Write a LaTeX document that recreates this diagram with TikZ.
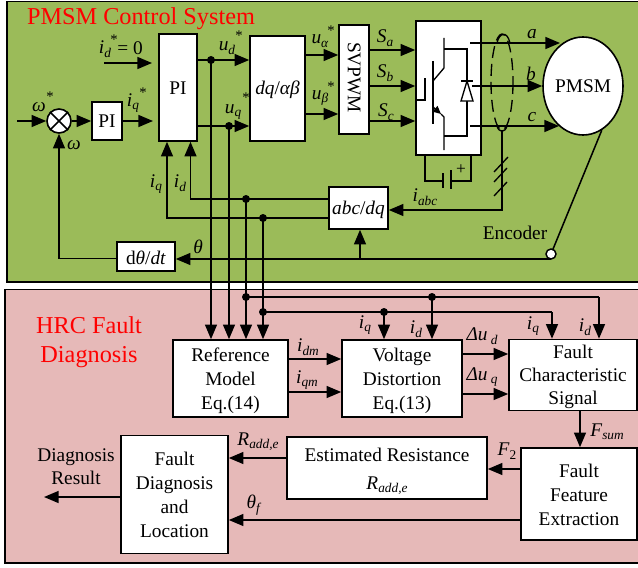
\documentclass[tikz,border=0pt]{standalone}
\usepackage{fontspec}
\setmainfont{Liberation Serif}
\usetikzlibrary{arrows.meta,shapes.geometric}
\definecolor{panelgreen}{HTML}{9BBB59}
\definecolor{panelpink}{HTML}{E6B9B8}
\newcommand\subs[1]{\raisebox{-.38ex}{\fontsize{10}{10}\selectfont\textit{#1}}}
\newcommand\il[2]{\textit{#1}\subs{#2}}
\tikzset{
  x=0.75pt,y=-0.75pt,
  wire/.style={line width=1.15pt,line join=miter},
  arr/.style={wire,-{Triangle[length=11pt,width=9pt]}},
  thin wire/.style={line width=1pt},
  box/.style={draw,fill=white,line width=1.2pt,inner sep=0pt,align=center,font=\fontsize{14.5}{18}\selectfont},
  sz/.style 2 args={minimum width=#1*0.75pt,minimum height=#2*0.75pt},
  dot/.style={circle,fill=black,inner sep=0pt,minimum size=6pt},
  lab/.style={inner sep=0pt,align=center,font=\fontsize{14.5}{18}\selectfont},
  star/.style={inner sep=0pt,font=\fontsize{11}{11}\selectfont},
  title/.style={inner sep=0pt,align=center,text=red,font=\fontsize{18.2}{22}\selectfont},
  panel/.style={draw,line width=1.2pt},
}
\begin{document}
\begin{tikzpicture}
\useasboundingbox (0,0) rectangle (638,567);
\fill[white] (0,0) rectangle (638,567);
\draw[panel,fill=panelgreen] (7,1.5) rectangle (640,282);
\draw[panel,fill=panelpink] (5,289.5) rectangle (640,563);
\node[title] (t1) at (141,19) {PMSM Control System};
\node[title] (t2) at (89,342) {HRC Fault\\Diagnosis};

% upper boxes
\node[box,sz={38}{107}] (bigpi) at (178,87.5) {};
\node[lab] (bigpit) at (178,88) {PI};
\node[box,sz={30}{38}] (pi) at (107,121) {PI};
\node[box,sz={55}{105}] (dq) at (277.5,88.5) {};
\node[lab] (dqt) at (277.5,90) {\textit{dq}/\textit{αβ}};
\node[box,sz={30}{109}] (svm) at (354,79.5) {};
\node[lab] (svmt) at (354,77.5) {\rotatebox{-90}{SVPWM}};
\node[box,sz={65}{134}] (inv) at (448.5,88) {};
\node[draw,fill=white,line width=1.2pt,ellipse,inner sep=0pt,sz={80}{98},font=\fontsize{14.5}{18}\selectfont] (pmsm) at (583,86) {PMSM};
\node[box,sz={59}{42}] (abc) at (358.5,208) {};
\node[lab] (abct) at (358.5,210) {\textit{abc}/\textit{dq}};
\node[box,sz={58}{29}] (dt) at (146,256.5) {};
\node[lab] (dtt) at (146,257.5) {d\textit{θ}/\textit{dt}};
\node[draw,fill=white,circle,line width=1.2pt,inner sep=0pt,minimum size=24*0.75pt] (sum) at (59,121) {};
\draw[wire] (sum.45) -- (sum.225) (sum.135) -- (sum.315);

% lower boxes
\node[box,sz={115}{77}] (ref) at (230.5,378.5) {};
\node[lab] (reft) at (230.5,380.5) {Reference\\Model\\Eq.(14)};
\node[box,sz={120}{77}] (vd) at (402,378.5) {};
\node[lab] (vdt) at (402,380.5) {Voltage\\Distortion\\Eq.(13)};
\node[box,sz={128}{71}] (fcs) at (573,375) {};
\node[lab,font=\fontsize{14.5}{17.5}\selectfont] (fcst) at (573,377) {Fault\\Characteristic\\Signal};
\node[box,sz={116}{92}] (ffe) at (579,494) {};
\node[lab] (ffet) at (579,495) {Fault\\Feature\\Extraction};
\node[box,sz={200}{62}] (est) at (387,468) {};
\node[lab,font=\fontsize{14.5}{21}\selectfont] (estt) at (387,471) {Estimated Resistance\\\il{R}{add,e}};
\node[box,sz={107}{118}] (fd) at (174.5,494.5) {Fault\\Diagnosis\\and\\Location};

% coordinates
\coordinate (ud) at (211,60);
\coordinate (uq) at (229,126);
\coordinate (idj) at (246,199);
\coordinate (iqj) at (263,218);
\coordinate (idin) at (190.5,199);
\coordinate (iqin) at (167,218);
\coordinate (idb) at (246,297);
\coordinate (idc) at (432,297);
\coordinate (idr) at (599,297);
\coordinate (iqb) at (263,312);
\coordinate (iqc) at (384,312);
\coordinate (iqr) at (552,312);
\coordinate (w0) at (17,121);
\coordinate (ids) at (104,63);
\coordinate (idt) at (152,63);
\coordinate (iqt) at (153,121);
\coordinate (ua) at (0,55);
\coordinate (ub) at (0,114);
\coordinate (sa) at (0,50);
\coordinate (sb) at (0,86);
\coordinate (sc) at (0,121);
\coordinate (oa) at (470,43);
\coordinate (ob) at (472,86);
\coordinate (oc) at (470,126);
\coordinate (ta) at (560,43);
\coordinate (tc) at (559,126);
\coordinate (enc) at (551,254);
\coordinate (thj) at (360,259);
\coordinate (th) at (551,259);
\coordinate (cur) at (502,130);
\coordinate (curb) at (502,210);
\coordinate (wb) at (59,258.5);
\coordinate (out) at (44,497);

% upper connectors
\draw[arr] (w0) -- (sum.west);
\draw[arr] (sum.east) -- (pi.west);
\draw[arr] (pi.east) -- (iqt);
\draw[arr] (ids) -- (idt);
\draw[wire] (bigpi.east |- ud) -- (ud);
\draw[arr] (ud) -- (dq.west |- ud);
\draw[wire] (bigpi.east |- uq) -- (uq);
\draw[arr] (uq) -- (dq.west |- uq);
\draw[arr] (dq.east |- ua) -- (svm.west |- ua);
\draw[arr] (dq.east |- ub) -- (svm.west |- ub);
\draw[arr] (svm.east |- sa) -- (inv.west |- sa);
\draw[arr] (svm.east |- sb) -- (inv.west |- sb);
\draw[arr] (svm.east |- sc) -- (inv.west |- sc);
\draw[arr] (oa) -- (ta);
\draw[arr] (ob) -- (pmsm.west);
\draw[arr] (oc) -- (tc);
\draw[arr] (abc.west |- idj) -- (idj) -- (idin) -- (bigpi.south -| idin);
\draw[arr] (abc.west |- iqj) -- (iqj) -- (iqin) -- (bigpi.south -| iqin);
\draw[arr] (cur) -- (curb) -- (abc.east |- curb);
\draw[wire] (th) -- (thj);
\draw[arr] (thj) -- (dt.east |- thj);
\draw[arr] (thj) -- (abc.south -| thj);
\draw[arr] (dt.west |- wb) -- (wb) -- (sum.south);
\draw[wire] (enc) -- (pmsm.293);

% buses into reference model
\draw[arr] (ud) -- (ref.north -| ud);
\draw[arr] (uq) -- (ref.north -| uq);
\draw[arr] (idj) -- (ref.north -| idj);
\draw[arr] (iqj) -- (ref.north -| iqj);
\draw[wire] (idb) -- (idr);
\draw[arr] (idr) -- (fcs.north -| idr);
\draw[arr] (idc) -- (vd.north -| idc);
\draw[wire] (iqb) -- (iqr);
\draw[arr] (iqr) -- (fcs.north -| iqr);
\draw[arr] (iqc) -- (vd.north -| iqc);

% lower connectors
\coordinate (idm) at (0,359);
\coordinate (iqm) at (0,392);
\coordinate (dud) at (0,354);
\coordinate (duq) at (0,394);
\coordinate (fs) at (580,0);
\coordinate (r1) at (0,458);
\coordinate (f2) at (0,469);
\coordinate (tf) at (0,520);
\draw[arr] (ref.east |- idm) -- (vd.west |- idm);
\draw[arr] (ref.east |- iqm) -- (vd.west |- iqm);
\draw[arr] (vd.east |- dud) -- (fcs.west |- dud);
\draw[arr] (vd.east |- duq) -- (fcs.west |- duq);
\draw[arr] (fcs.south -| fs) -- (ffe.north -| fs);
\draw[arr] (est.west |- r1) -- (fd.east |- r1);
\draw[arr] (ffe.west |- f2) -- (est.east |- f2);
\draw[arr] (ffe.west |- tf) -- (fd.east |- tf);
\draw[arr] (fd.west |- out) -- (out);

% junction dots
\foreach \p in {ud,uq,idj,iqj,idb,idc,iqb,iqc} \node[dot] at (\p) {};
\node[draw,fill=white,circle,line width=1.1pt,inner sep=0pt,minimum size=7.5pt] (encd) at (enc) {};

% inverter symbol
\draw[thin wire] (416,100) -- (425,100) -- (425,78);
\draw[thin wire] (433,61) -- (433,124);
\draw[thin wire] (444,38) -- (444,68) -- (433,81);
\draw[thin wire] (444,49) -- (467,49) -- (467,101);
\draw[thin wire,-{Triangle[length=6pt,width=5.5pt]}] (433,107) -- (441,114);
\draw[thin wire] (441,114) -- (444,117) -- (444,150);
\draw[thin wire] (444,136) -- (467,136) -- (467,101);
\draw[thin wire,fill=white] (461,101) -- (473,101) -- (467,81) -- cycle;
\draw[wire] (461,81) -- (473,81);
% dc link
\draw[thin wire] (425,155) -- (425,181) -- (443,181);
\draw[thin wire] (443,173) -- (443,188);
\draw[thin wire] (451,170) -- (451,189);
\draw[thin wire] (451,181) -- (471,181) -- (471,155);
\node[lab,font=\fontsize{13}{13}\selectfont] (plus) at (461,170) {+};
% current sensor
\draw[thin wire,dash pattern=on 9pt off 4.5pt] (502,82) ellipse [x radius=11,y radius=48];
\draw[thin wire] (497,126) .. controls (499,133) and (505,133) .. (507,126);
\draw[thin wire] (497,43) .. controls (499,33) and (507,30) .. (510,43);
\draw[thin wire] (494,172) -- (508,157);
\draw[thin wire] (494,182) -- (507,168);
\draw[thin wire] (494,196) -- (507,182);

% labels
\node[lab] (l1) at (105,49) {\il{i}{d}};
\node[star] (l1s) at (114,40) {*};
\node[lab] (l1e) at (130,48) {= 0};
\node[lab] (l2) at (39,107) {\textit{ω}};
\node[star] (l2s) at (50,97) {*};
\node[lab] (l3) at (74,145) {\textit{ω}};
\node[lab] (l4) at (133,103) {\il{i}{q}};
\node[star] (l4s) at (143,93) {*};
\node[lab] (l5) at (227,48) {\il{u}{d}};
\node[star] (l5s) at (239,36) {*};
\node[lab] (l6) at (233,112) {\il{u}{q}};
\node[star] (l6s) at (246,98) {*};
\node[lab] (l7) at (320,41) {\il{u}{α}};
\node[star] (l7s) at (331,31) {*};
\node[lab] (l8) at (320,98) {\il{u}{β}};
\node[star] (l8s) at (331,87) {*};
\node[lab] (l9) at (385,38) {\il{S}{a}};
\node[lab] (l10) at (385,73) {\il{S}{b}};
\node[lab] (l11) at (386,112) {\il{S}{c}};
\node[lab] (l12) at (532,34) {\textit{a}};
\node[lab] (l13) at (531,74) {\textit{b}};
\node[lab] (l14) at (532,117) {\textit{c}};
\node[lab] (l15) at (156,184) {\il{i}{q}};
\node[lab] (l16) at (180,183) {\il{i}{d}};
\node[lab] (l17) at (198,247) {\textit{θ}};
\node[lab] (l18) at (515,233) {Encoder};
\node[lab] (l19) at (425,197) {\il{i}{abc}};
\node[lab] (l20) at (365,325) {\il{i}{q}};
\node[lab] (l21) at (416,329) {\il{i}{d}};
\node[lab] (l22) at (482,336) {\textit{Δu}\,\subs{d}};
\node[lab] (l23) at (482,377) {\textit{Δu}\,\subs{q}};
\node[lab] (l24) at (533,326) {\il{i}{q}};
\node[lab] (l25) at (585,327) {\il{i}{d}};
\node[lab] (l26) at (308,347) {\il{i}{dm}};
\node[lab] (l27) at (307,380) {\il{i}{qm}};
\node[lab] (l28) at (607,432) {\il{F}{sum}};
\node[lab] (l29) at (507,451) {\textit{F}\raisebox{-.38ex}{\fontsize{10}{10}\selectfont 2}};
\node[lab] (l30) at (258,442) {\il{R}{add,e}};
\node[lab] (l31) at (254,505) {\il{θ}{f}};
\node[lab,font=\fontsize{14.5}{17.5}\selectfont] (l32) at (76,466.5) {Diagnosis\\Result};
\end{tikzpicture}
\end{document}
